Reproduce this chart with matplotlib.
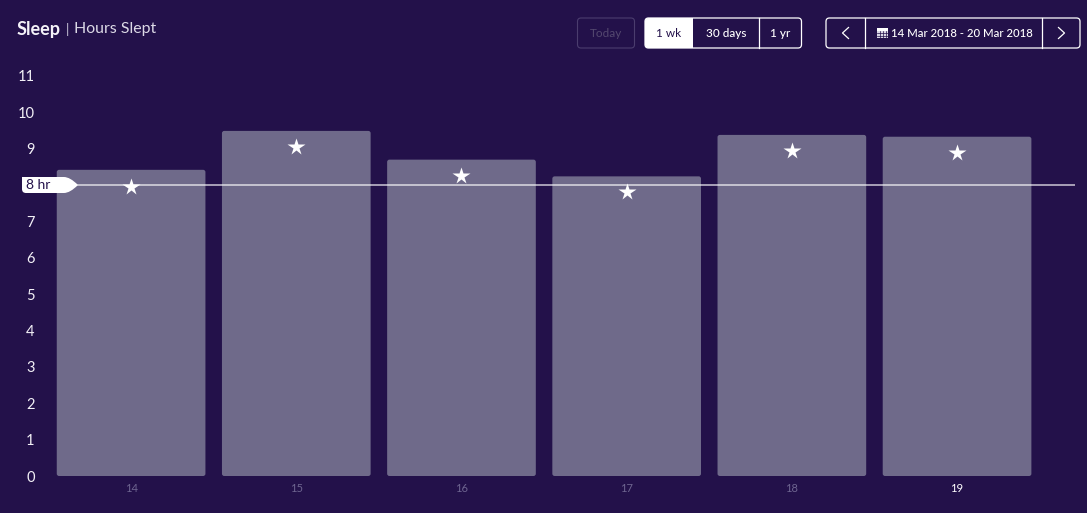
import matplotlib.pyplot as plt
from matplotlib.patches import FancyBboxPatch, PathPatch, Rectangle
from matplotlib.path import Path

# Data
days = ['14', '15', '16', '17', '18', '19']
hours_slept = [8.42, 9.49, 8.70, 8.24, 9.38, 9.33]
star_values = [7.95, 9.05, 8.24, 7.80, 8.94, 8.88]
goal_hours = 8
y_ticks = list(range(0, 12))

BG = '#23114a'
BAR = '#6f6a8a'
FONT = 'Lato'
plt.rcParams['font.family'] = FONT

W, H = 1087, 513
fig = plt.figure(figsize=(W / 100, H / 100), dpi=100, facecolor=BG)

# chart axes, placed in pixels
left, right, top, bottom = 48.5, 1075, 76, 476
ax = fig.add_axes([left / W, 1 - bottom / H, (right - left) / W, (bottom - top) / H])
ax.set_facecolor('none')
ax.set_xlim(-0.5, 5.714)
ax.set_ylim(0, 11)
for s in ax.spines.values():
    s.set_visible(False)

xs = list(range(len(days)))
bar_w = 0.9
px_x = (right - left) / 6.214
px_y = (bottom - top) / 11
for x, h in zip(xs, hours_slept):
    ax.add_patch(FancyBboxPatch((x - bar_w / 2, 0), bar_w, h,
                                boxstyle='round,pad=0,rounding_size=0.014',
                                mutation_aspect=px_x / px_y,
                                fc=BAR, ec='none', zorder=2))

ax.plot([0.0 - 0.32, 5.714], [goal_hours, goal_hours], color='#ffffff', alpha=0.7, lw=1.2, zorder=3)
ax.plot(xs, star_values, ls='none', marker='*', ms=13, mfc='white', mec='none', zorder=4)

# the flag stands in for the 8 label
ax.set_yticks(y_ticks)
ax.set_yticklabels(['' if t == goal_hours else str(t) for t in y_ticks], fontsize=10.5, color='#f2f0f6')
ax.tick_params(axis='y', length=0, pad=10)
ax.set_xticks(xs)
ax.set_xticklabels(days, fontsize=8, color='#6e6590')
ax.get_xticklabels()[-1].set_color('white')
ax.tick_params(axis='x', length=0, pad=5)

# overlay in pixel coordinates for the page controls
ui = fig.add_axes([0, 0, 1, 1])
ui.set_xlim(0, W)
ui.set_ylim(H, 0)
ui.axis('off')
ui.patch.set_alpha(0)

ui.text(17, 29, 'Sleep', fontsize=13, fontweight='bold', color='#f4f2f8', va='center')
ui.text(66, 29, '|', fontsize=9.5, color='#d8d4e4', va='center')
ui.text(73.5, 29.5, 'Hours Slept', fontsize=11.4, color='#dcd9e6', va='center')

# 8 hr flag
verts = [(26, 177), (64, 177), (70, 177), (78, 185), (70, 193), (64, 193), (26, 193),
         (22, 193), (22, 189), (22, 185), (22, 181), (22, 177), (26, 177)]
codes = [Path.MOVETO, Path.LINETO, Path.CURVE3, Path.CURVE3, Path.CURVE3, Path.CURVE3, Path.LINETO,
         Path.CURVE3, Path.CURVE3, Path.LINETO, Path.CURVE3, Path.CURVE3, Path.CLOSEPOLY]
ui.add_patch(PathPatch(Path(verts, codes), fc='white', ec='none', zorder=5))
ui.text(26, 185, '8 hr', fontsize=10, color=BG, va='center', zorder=6)


def box(x0, x1, y0=18, y1=48, fc='none', ec='white', z=2, lw=0.9):
    ui.add_patch(FancyBboxPatch((x0, y0), x1 - x0, y1 - y0, boxstyle='round,pad=0,rounding_size=3.5',
                                fc=fc, ec=ec, lw=lw, zorder=z))


# Today
box(577.5, 634.5, ec='#4b3d6e', lw=0.8)
ui.text(606, 33.5, 'Today', fontsize=8.5, color='#54486f', ha='center', va='center')

# range buttons
box(645, 801.5)
ui.add_patch(FancyBboxPatch((645, 18), 48, 30, boxstyle='round,pad=0,rounding_size=3.5', fc='white', ec='none', zorder=3))
ui.add_patch(Rectangle((685, 18), 8, 30, fc='white', ec='none', zorder=3))
ui.plot([759, 759], [18, 48], color='white', lw=0.9)
ui.text(669, 33.5, '1 wk', fontsize=8.5, color=BG, ha='center', va='center', zorder=4)
ui.text(726, 33.5, '30 days', fontsize=8.5, fontweight='medium', color='white', ha='center', va='center')
ui.text(780, 33.5, '1 yr', fontsize=8.5, fontweight='medium', color='white', ha='center', va='center')

# date picker
box(826, 1080)
ui.plot([864.5, 864.5], [18, 48], color='white', lw=0.9)
ui.plot([1042, 1042], [18, 48], color='white', lw=0.9)
ui.plot([848.5, 842.5, 848.5], [27.5, 33, 38.5], color='white', lw=0.9)
ui.plot([1058.5, 1064.5, 1058.5], [27.5, 33, 38.5], color='white', lw=0.9)
ui.add_patch(Rectangle((877, 29), 11, 9, fc='#d9d6e4', ec='none'))
ui.add_patch(Rectangle((877, 28), 11, 2.5, fc='white', ec='none'))
for gx in (880, 883, 886):
    ui.plot([gx, gx], [31, 38], color=BG, lw=0.5)
for gy in (33, 35.5):
    ui.plot([877, 888], [gy, gy], color=BG, lw=0.5)
ui.text(891, 33.5, '14 Mar 2018 - 20 Mar 2018', fontsize=8.2, fontweight='medium', color='white', va='center')

fig.savefig('out.png', dpi=100, facecolor=BG)
